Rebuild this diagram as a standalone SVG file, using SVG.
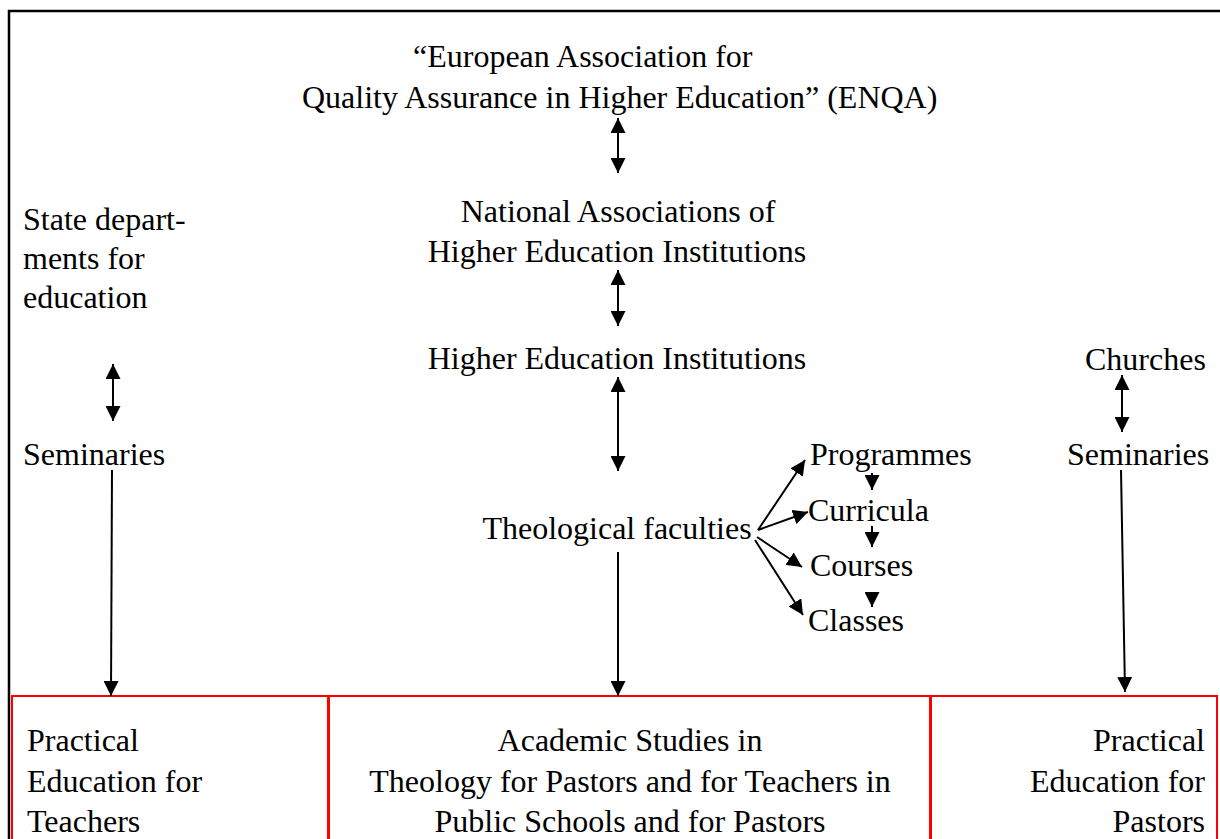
<svg xmlns="http://www.w3.org/2000/svg" width="1220" height="839" viewBox="0 0 1220 839">
<style>
text{font-family:"Liberation Serif","Times New Roman",serif;font-size:32px;fill:#000}
.c{text-anchor:middle}
.r{text-anchor:end}
.ln{stroke:#000;stroke-width:2;fill:none}
.box{fill:none;stroke:#ff0000;stroke-width:2}
</style>
<defs>
<marker id="a" viewBox="0 0 10 10" refX="10" refY="5" markerWidth="7.5" markerHeight="7.5" orient="auto-start-reverse"><path d="M0,0L10,5L0,10z" fill="#000"/></marker>
</defs>
<rect x="9" y="11" width="1230" height="900" fill="none" stroke="#000" stroke-width="2.5"/>
<g id="enqa"><text x="413" y="67">“European Association for</text><text x="302" y="108">Quality Assurance in Higher Education” (ENQA)</text></g>
<g id="national"><text class="c" x="618" y="222">National Associations of</text><text class="c" x="617" y="262">Higher Education Institutions</text></g>
<g id="hei"><text class="c" x="617" y="369">Higher Education Institutions</text></g>
<g id="faculties"><text class="c" x="617" y="539">Theological faculties</text></g>
<g id="state"><text x="23" y="230">State depart-</text><text x="23" y="269">ments for</text><text x="23" y="308">education</text></g>
<g id="seminaries-left"><text x="23" y="465">Seminaries</text></g>
<g id="churches"><text x="1085" y="370">Churches</text></g>
<g id="seminaries-right"><text x="1067" y="465">Seminaries</text></g>
<g id="programmes"><text x="810" y="465">Programmes</text></g>
<g id="curricula"><text x="808" y="521">Curricula</text></g>
<g id="courses"><text x="810" y="576">Courses</text></g>
<g id="classes"><text x="808" y="631">Classes</text></g>
<g id="box-teachers"><rect class="box" x="12" y="696" width="317" height="200"/><text x="27" y="751">Practical</text><text x="27" y="792">Education for</text><text x="27" y="832">Teachers</text></g>
<g id="box-academic"><rect class="box" x="328" y="696" width="603" height="200"/><text class="c" x="630" y="751">Academic Studies in</text><text class="c" x="630" y="792">Theology for Pastors and for Teachers in</text><text class="c" x="630" y="832">Public Schools and for Pastors</text></g>
<g id="box-pastors"><rect class="box" x="930" y="696" width="287" height="200"/><text class="r" x="1205" y="751">Practical</text><text class="r" x="1205" y="792">Education for</text><text class="r" x="1205" y="832">Pastors</text></g>
<g id="connectors" class="ln">
<line x1="618" y1="118" x2="618" y2="173" marker-start="url(#a)" marker-end="url(#a)"/>
<line x1="618" y1="270" x2="618" y2="326" marker-start="url(#a)" marker-end="url(#a)"/>
<line x1="618" y1="377" x2="618" y2="471" marker-start="url(#a)" marker-end="url(#a)"/>
<line x1="618" y1="552" x2="618" y2="696" marker-end="url(#a)"/>
<line x1="113" y1="364" x2="113" y2="421" marker-start="url(#a)" marker-end="url(#a)"/>
<line x1="112" y1="470" x2="111" y2="696" marker-end="url(#a)"/>
<line x1="1122" y1="375" x2="1122" y2="432" marker-start="url(#a)" marker-end="url(#a)"/>
<line x1="1121" y1="470" x2="1125" y2="692" marker-end="url(#a)"/>
<line x1="758" y1="530" x2="805" y2="460" marker-end="url(#a)"/>
<line x1="758" y1="530" x2="808" y2="512" marker-end="url(#a)"/>
<line x1="757" y1="537" x2="802" y2="567" marker-end="url(#a)"/>
<line x1="755" y1="540" x2="803" y2="615" marker-end="url(#a)"/>
<line x1="872" y1="473" x2="872" y2="490" marker-end="url(#a)"/>
<line x1="872" y1="526" x2="872" y2="547" marker-end="url(#a)"/>
<line x1="872" y1="592" x2="872" y2="607" marker-end="url(#a)"/>
</g>
</svg>
